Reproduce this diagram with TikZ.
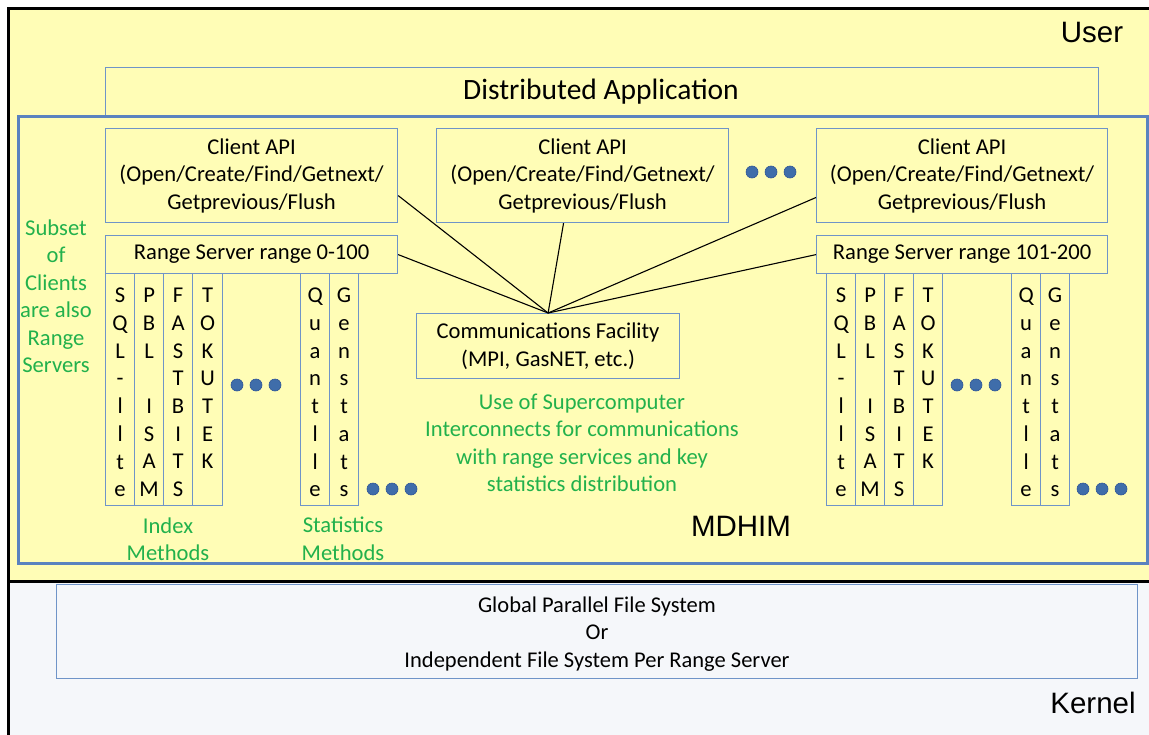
\documentclass[tikz,border=0pt]{standalone}
\usepackage{fontspec}
\setmainfont{Carlito}
\newfontfamily\arialf{Liberation Sans}
\usetikzlibrary{calc}
\definecolor{bgyel}{HTML}{FFFDB6}
\definecolor{bgker}{HTML}{F5F7FA}
\definecolor{bxblue}{HTML}{6F94C8}
\definecolor{mdblue}{HTML}{5A83BF}
\definecolor{grn}{HTML}{22B14C}
\definecolor{dotc}{HTML}{3F6DAA}
\definecolor{dotd}{HTML}{2F5597}
\tikzset{
  bx/.style={draw=bxblue, line width=1.2pt, fill=bgyel, inner sep=0pt, align=center,
    font=\fontsize{22.6}{27.5}\selectfont},
  colt/.style={inner sep=0pt, align=center, font=\fontsize{22.6}{27.7}\selectfont},
  gtxt/.style={text=grn, inner sep=0pt, align=center, font=\fontsize{22.6}{27.5}\selectfont},
  big/.style={inner sep=0pt, font=\arialf\fontsize{29.5}{32}\selectfont},
  dotn/.style={circle, fill=dotc, draw=dotd, line width=0.6pt, minimum size=12pt, inner sep=0pt},
  conn/.style={draw=black, line width=1.1pt},
}
\newcommand\mcol[4]{%
  \node[bx, anchor=north west, minimum width=#3, minimum height=232] (#1) at (#2,273) {};
  \node[colt, anchor=north] (#1t) at ($(#1.north)+(0,15)$) {#4};
}
\begin{document}
\begin{tikzpicture}[x=1pt,y=-1pt]
\useasboundingbox (0,0) rectangle (1149,734);
% regions
\fill[white] (0,0) rectangle (1149,734);
\fill[bgyel] (8,8) rectangle (1152,581);
\fill[bgker] (8,581) rectangle (1152,737);
\draw[black, line width=3pt] (8,740) -- (8,8) -- (1155,8);
\draw[black, line width=3pt] (8,581) -- (1155,581);
\node[big] (user) at (1092,32) {User};
\node[big] (kernel) at (1093,703) {Kernel};
% distributed application
\node[bx, anchor=north west, minimum width=993, minimum height=50] (da) at (105,67) {};
\node[inner sep=0pt, font=\fontsize{29.5}{32}\selectfont] (dat) at (601,92) {Distributed Application};
% MDHIM
\node[draw=mdblue, line width=2.8pt, fill=bgyel, anchor=north west, minimum width=1129, minimum height=447, inner sep=0pt] (md) at (17,115) {};
\node[big] (mdt) at (741,526) {MDHIM};
% clients
\node[bx, anchor=north west, minimum width=292, minimum height=94] (cl) at (105,128) {Client API\\(Open/Create/Find/Getnext/\\Getprevious/Flush};
\node[bx, anchor=north west, minimum width=292, minimum height=94] (cc) at (436,128) {Client API\\(Open/Create/Find/Getnext/\\Getprevious/Flush};
\node[bx, anchor=north west, minimum width=291, minimum height=94] (cr) at (816,128) {Client API\\(Open/Create/Find/Getnext/\\Getprevious/Flush};
\node[dotn] (dt1) at (752,172) {};
\node[dotn] (dt2) at (771,172) {};
\node[dotn] (dt3) at (790,172) {};
% range servers
\node[bx, anchor=north west, minimum width=292, minimum height=38] (rs1) at (105,235) {Range Server range 0-100};
\node[bx, anchor=north west, minimum width=291, minimum height=38] (rs2) at (816,235) {Range Server range 101-200};
% columns left
\mcol{la}{105}{29}{S\\Q\\L\\-\\l\\l\\t\\e}
\mcol{lb}{134}{29}{P\\B\\L\\\mbox{}\\I\\S\\A\\M}
\mcol{lc}{163}{29}{F\\A\\S\\T\\B\\I\\T\\S}
\mcol{ld}{192}{30}{T\\O\\K\\U\\T\\E\\K}
\mcol{le}{300}{29}{Q\\u\\a\\n\\t\\l\\l\\e}
\mcol{lf}{329}{29}{G\\e\\n\\s\\t\\a\\t\\s}
% columns right
\mcol{ra}{826}{29}{S\\Q\\L\\-\\l\\l\\t\\e}
\mcol{rb}{855}{29}{P\\B\\L\\\mbox{}\\I\\S\\A\\M}
\mcol{rc}{884}{29}{F\\A\\S\\T\\B\\I\\T\\S}
\mcol{rd}{913}{29}{T\\O\\K\\U\\T\\E\\K}
\mcol{re}{1011}{29}{Q\\u\\a\\n\\t\\l\\l\\e}
\mcol{rf}{1040}{29}{G\\e\\n\\s\\t\\a\\t\\s}
% dots
\node[dotn] (d1) at (237,385) {};
\node[dotn] (d2) at (256,385) {};
\node[dotn] (d3) at (275,385) {};
\node[dotn] (d4) at (373,489) {};
\node[dotn] (d5) at (392,489) {};
\node[dotn] (d6) at (411,489) {};
\node[dotn] (d7) at (957,385) {};
\node[dotn] (d8) at (976,385) {};
\node[dotn] (d9) at (995,385) {};
\node[dotn] (d10) at (1083,489) {};
\node[dotn] (d11) at (1102,489) {};
\node[dotn] (d12) at (1121,489) {};
% communications facility
\node[bx, anchor=north west, minimum width=263, minimum height=65] (cf) at (416,313) {Communications Facility\\(MPI, GasNET, etc.)};
\draw[conn] ($(cl.north east)!0.71!(cl.south east)$) -- (cf.north);
\draw[conn] (rs1.east) -- (cf.north);
\draw[conn] ($(cc.south west)!0.435!(cc.south east)$) -- (cf.north);
\draw[conn] ($(cr.north west)!0.73!(cr.south west)$) -- (cf.north);
\draw[conn] (rs2.west) -- (cf.north);
% green texts
\node[gtxt] (subset) at (56,296) {Subset\\of\\Clients\\are also\\Range\\Servers};
\node[gtxt] (idx) at (168,539) {Index\\Methods};
\node[gtxt] (stat) at (343,539) {Statistics\\Methods};
\node[gtxt] (use) at (582,443) {Use of Supercomputer\\Interconnects for communications\\with range services and key\\statistics distribution};
% file system
\node[draw=bxblue, line width=1.2pt, fill=bgker, anchor=north west, minimum width=1081, minimum height=94, inner sep=0pt] (fs) at (56,584) {};
\node[inner sep=0pt, align=center, font=\fontsize{22.5}{27.5}\selectfont] (fst) at (597,634) {Global Parallel File System\\Or\\Independent File System Per Range Server};
\end{tikzpicture}
\end{document}
